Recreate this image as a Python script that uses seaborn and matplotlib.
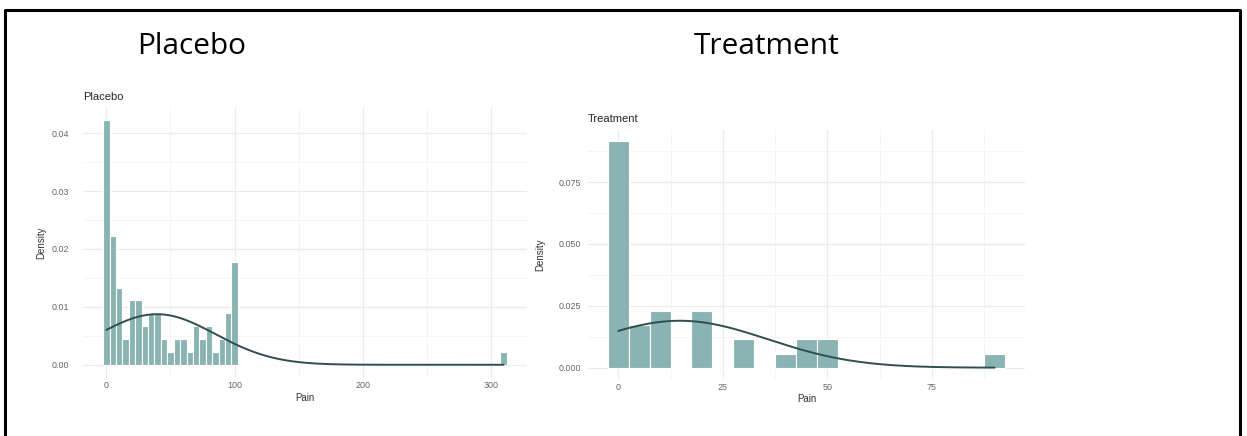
import numpy as np
import pandas as pd
import matplotlib.pyplot as plt
import seaborn as sns
from matplotlib.lines import Line2D

# pain scores (bin centres) and how many patients fell in each bin
placebo_pain = [0, 5, 10, 15, 20, 25, 30, 35, 40, 45, 50, 55, 60, 65, 70, 75, 80, 85, 90, 95, 100, 310]
placebo_count = [19, 10, 6, 2, 5, 5, 3, 4, 4, 2, 1, 2, 2, 1, 3, 2, 3, 1, 2, 4, 8, 1]

treatment_pain = [0, 5, 10, 20, 30, 40, 45, 50, 90]
treatment_count = [16, 3, 4, 4, 2, 1, 2, 2, 1]

placebo_xticks = [0, 100, 200, 300]
placebo_yticks = [0.00, 0.01, 0.02, 0.03, 0.04]
treatment_xticks = [0, 25, 50, 75]
treatment_yticks = [0.000, 0.025, 0.050, 0.075]

bar_color = "#8AB4B3"
curve_color = "#2F4F4F"

sns.set_theme(style="white")
plt.rcParams["font.family"] = ["Liberation Sans", "DejaVu Sans"]

fig = plt.figure(figsize=(12.47, 4.36), dpi=100)


def panel(rect, pain, count, xticks, yticks, title, yfmt):
    ax = fig.add_axes(rect)
    df = pd.DataFrame({"Pain": pain, "n": count})
    sns.histplot(data=df, x="Pain", weights="n", binwidth=5,
                 binrange=(min(pain) - 2.5, max(pain) + 2.5), stat="density",
                 color=bar_color, alpha=1, edgecolor="white", linewidth=0.8, ax=ax, zorder=2)

    # normal curve using the sample mean / sd
    raw = np.repeat(pain, count)
    mu, sd = raw.mean(), raw.std(ddof=1)
    xs = np.linspace(raw.min(), raw.max(), 300)
    ys = np.exp(-0.5 * ((xs - mu) / sd) ** 2) / (sd * np.sqrt(2 * np.pi))
    sns.lineplot(x=xs, y=ys, color=curve_color, linewidth=1.4, ax=ax, zorder=3)

    ax.set_xticks(xticks)
    ax.set_yticks(yticks)
    ax.set_yticklabels([yfmt.format(v) for v in yticks])
    dx = xticks[1] - xticks[0]
    dy = yticks[1] - yticks[0]
    ax.set_xticks([t + dx / 2 for t in [xticks[0] - dx] + xticks], minor=True)
    ax.set_yticks([t + dy / 2 for t in yticks], minor=True)

    # ggplot-like 5% expansion, set after the ticks so they don't widen it
    lo, hi = min(pain) - 2.5, max(pain) + 2.5
    ax.set_xlim(lo - 0.05 * (hi - lo), hi + 0.05 * (hi - lo))
    ymax = max(np.array(count) / (sum(count) * 5))
    ax.set_ylim(-0.05 * ymax, 1.05 * ymax)

    ax.grid(True, which="major", color="#EBEBEB", linewidth=0.9, zorder=0)
    ax.grid(True, which="minor", color="#F4F4F4", linewidth=0.6, zorder=0)
    ax.set_axisbelow(True)
    for s in ax.spines.values():
        s.set_visible(False)
    ax.tick_params(which="both", length=0, labelsize=6.4, labelcolor="#666666")
    ax.tick_params(axis="x", pad=3)
    ax.set_xlabel("Pain", fontsize=7, color="#333333")
    ax.set_ylabel("Density", fontsize=7, color="#333333")
    ax.set_title(title, loc="left", fontsize=8, pad=6)
    return ax


ax1 = panel([0.0666, 0.1353, 0.356, 0.617], placebo_pain, placebo_count,
            placebo_xticks, placebo_yticks, "Placebo", "{:.2f}")
ax1.tick_params(axis="y", pad=10)
ax1.yaxis.set_label_coords(-0.083, 0.5)
ax1.xaxis.set_label_coords(0.5, -0.058)

ax2 = panel([0.4715, 0.1307, 0.3504, 0.571], treatment_pain, treatment_count,
            treatment_xticks, treatment_yticks, "Treatment", "{:.3f}")
ax2.tick_params(axis="y", pad=5)
ax2.yaxis.set_label_coords(-0.098, 0.5)
ax2.xaxis.set_label_coords(0.5, -0.062)

# slide headings
fig.text(192 / 1247, 1 - 47 / 436, "Placebo", fontsize=21.5, family="Open Sans",
         color="black", ha="center", va="center")
fig.text(767 / 1247, 1 - 47 / 436, "Treatment", fontsize=21.5, family="Open Sans",
         color="black", ha="center", va="center")

# slide frame (open at the bottom)
x0, x1, yt = 5 / 1247, 1240 / 1247, 1 - 10 / 436
fig.add_artist(Line2D([x0, x0, x1, x1], [0, yt, yt, 0], color="black", linewidth=2.2))

fig.savefig("out.png", dpi=100)
